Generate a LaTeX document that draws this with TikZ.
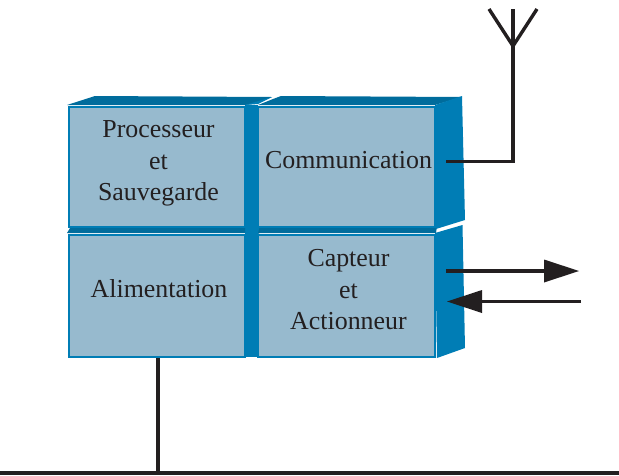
\documentclass[tikz,border=0pt]{standalone}
\usepackage{fontspec}
\setmainfont{Liberation Serif}
\usetikzlibrary{arrows.meta}
\definecolor{facefill}{HTML}{97BACE}
\definecolor{sideblue}{HTML}{007DB5}
\definecolor{topblue}{HTML}{006C9C}
\definecolor{ink}{HTML}{231F20}
\tikzset{
  front/.style={draw=sideblue,line width=2pt,fill=facefill,line join=miter,inner sep=0pt,anchor=north west},
  sideface/.style={fill=sideblue,draw=none},
  topface/.style={fill=topblue,draw=none},
  lbl/.style={text=ink,font=\fontsize{25.9}{31.5}\selectfont,align=center,inner sep=0pt},
  wire/.style={draw=ink,line width=3.4pt,line cap=butt,line join=miter},
  sig/.style={wire,-{Triangle[length=35pt,width=23pt,line width=0pt]}},
}
\begin{document}
\begin{tikzpicture}[x=1pt,y=-1pt]
\useasboundingbox (0,0) rectangle (619,475);
% gap backing between the boxes
\fill[sideblue] (245,105) rectangle (258,357);
\fill[sideblue] (245,226) -- (272,225) -- (258,234) -- (245,234) -- cycle;
% top faces
\fill[topface] (67,105) -- (95,96) -- (272,97) -- (258,103) -- (245,105) -- cycle;
\fill[topface] (258,105) -- (273,99) -- (281,96) -- (462,97) -- (435,105) -- cycle;
\fill[topface] (67,233) -- (70,228) -- (245,226) -- (245,233) -- cycle;
\fill[topface] (258,233) -- (260,226) -- (437,226) -- (436,233) -- cycle;
\fill[sideblue] (245,105) -- (272,97) -- (258,104) -- cycle;
% side faces
\fill[sideface] (435,105) -- (462,96) -- (465,220) -- (436,229) -- cycle;
\fill[sideface] (435,233) -- (462.5,225) -- (465,348) -- (437,358) -- cycle;
% front faces
\node[front,minimum width=176pt,minimum height=120pt] (ps) at (68,106) {};
\node[front,minimum width=176.5pt,minimum height=120pt] (co) at (257,106) {};
\node[front,minimum width=176pt,minimum height=122pt] (al) at (68,234) {};
\node[front,minimum width=176.5pt,minimum height=122pt] (ca) at (257,234) {};
% labels
\node[lbl] (pst) at (158.5,163.5) {Processeur\\et\\Sauvegarde};
\node[lbl] (cot) at (348.5,160) {Communication};
\node[lbl] (alt) at (159,289) {Alimentation};
\node[lbl] (cat) at (348.5,290) {Capteur\\et\\Actionneur};
% connectors
\coordinate (cw) at (446,161.5);
\coordinate (ac) at (513,161.5);
\coordinate (at) at (513,9);
\coordinate (aj) at (513,46);
\coordinate (al1) at (489,9);
\coordinate (ar1) at (537,9);
\draw[wire] (cw) -- (ac) -- (at);
\draw[wire] (al1) -- (aj) -- (ar1);
\coordinate (o1) at (446,271);
\coordinate (o2) at (579,271);
\coordinate (i1) at (581,301.5);
\coordinate (i2) at (447,301.5);
\draw[sig] (o1) -- (o2);
\draw[sig] (i1) -- (i2);
\coordinate (bus1) at (0,473);
\coordinate (bus2) at (619,473);
\coordinate (busj) at (158,473);
\draw[wire] (bus1) -- (bus2);
\draw[wire] (al.south -| busj) -- (busj);
\end{tikzpicture}
\end{document}
